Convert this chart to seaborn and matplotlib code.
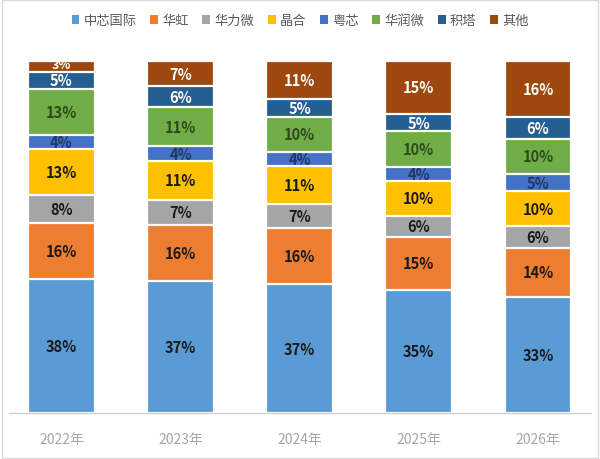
import numpy as np
import pandas as pd
import matplotlib
matplotlib.use("Agg")
import matplotlib.pyplot as plt
import seaborn as sns
from matplotlib.patches import Patch

years = ["2022年", "2023年", "2024年", "2025年", "2026年"]
companies = ["中芯国际", "华虹", "华力微", "晶合", "粤芯", "华润微", "积塔", "其他"]
smic    = [38, 37, 37, 35, 33]
huahong = [16, 16, 16, 15, 14]
hlmc    = [8, 7, 7, 6, 6]
nexchip = [13, 11, 11, 10, 10]
cansemi = [4, 4, 4, 4, 5]
crmicro = [13, 11, 10, 10, 10]
gtasemi = [5, 6, 5, 5, 6]
others  = [3, 7, 11, 15, 16]

colors = ["#5B9BD5", "#ED7D31", "#A5A5A5", "#FFC000", "#4472C4", "#70AD47", "#255E91", "#9E480E"]
label_colors = ["#1a1a1a", "#1a1a1a", "#1a1a1a", "#1a1a1a", "#1f3864", "#2d4a1a", "white", "white"]

sns.set_theme(style="white")
plt.rcParams['font.family'] = ['Noto Sans CJK SC', 'DejaVu Sans']

series = [smic, huahong, hlmc, nexchip, cansemi, crmicro, gtasemi, others]
vals = np.array(series, dtype=float)
shares = vals / vals.sum(axis=0) * 100
cum = np.cumsum(shares, axis=0)

fig = plt.figure(figsize=(6, 4.6), dpi=100)
ax = fig.add_axes([0.0, 0.1, 1.0, 0.765])

for k in range(len(companies) - 1, -1, -1):
    df = pd.DataFrame({"year": years, "v": cum[k]})
    sns.barplot(data=df, x="year", y="v", color=colors[k], width=0.56,
                edgecolor="white", linewidth=1.6, saturation=1, ax=ax)

for k in range(len(companies)):
    for i in range(len(years)):
        y = cum[k][i] - shares[k][i] / 2
        fs = 10.5
        if series[k][i] <= 3:
            fs = 9
            y += 0.6
        ax.text(i, y, f"{int(series[k][i])}%", ha="center", va="center",
                fontsize=fs, fontweight="bold", color=label_colors[k])

ax.set_xlim(-0.516, 4.521)
ax.set_ylim(0, 100)
ax.axhline(0, xmin=0.015, xmax=0.985, color="#d0d0d0", lw=1, clip_on=False)
for s in ax.spines.values():
    s.set_visible(False)
ax.set_yticks([])
ax.set_xlabel("")
ax.set_ylabel("")
ax.tick_params(axis="x", length=0, pad=14, labelsize=10, labelcolor="#a6a6a6")

handles = [Patch(facecolor=c, edgecolor="none") for c in colors]
fig.legend(handles, companies, loc="center", bbox_to_anchor=(0.5, 0.953), ncol=8,
           frameon=False, fontsize=9.5, handlelength=0.6, handleheight=0.6,
           handletextpad=0.3, columnspacing=1.05, labelcolor="#595959")

border = plt.Rectangle((0.003, 0.003), 0.994, 0.994, transform=fig.transFigure,
                       fill=False, edgecolor="#d9d9d9", lw=1)
fig.patches.append(border)

fig.savefig("out.png", dpi=100)
